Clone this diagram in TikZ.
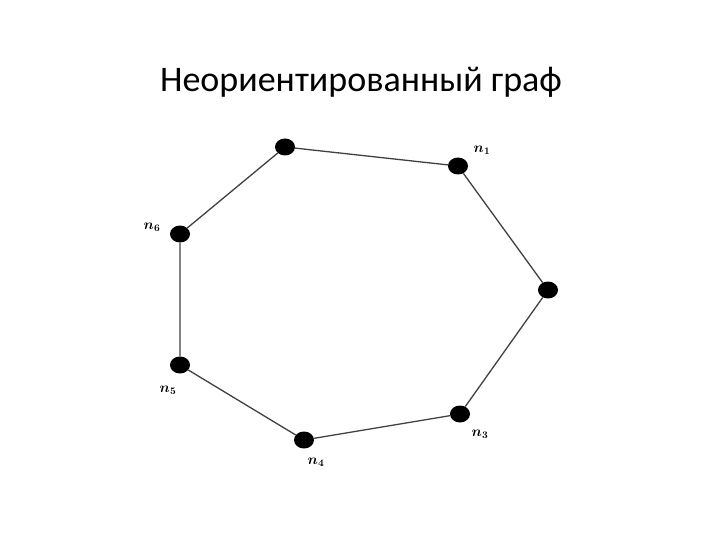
\documentclass[tikz,border=0pt]{standalone}
\usepackage{fontspec}
\setmainfont{Carlito}
\usetikzlibrary{shapes.geometric}
\begin{document}
\begin{tikzpicture}[x=1pt,y=-1pt,
  vtx/.style={ellipse,fill=black,minimum width=20pt,minimum height=17pt,inner sep=0pt},
  lbl/.style={font=\fontsize{14}{14}\selectfont\boldmath},
  edge/.style={line width=1.3pt,black!75}]
\useasboundingbox (0,0) rectangle (720,540);
\node[font=\fontsize{36}{36}\selectfont] (title) at (361,82) {Неориентированный граф};
\node[vtx] (a) at (285,147) {};
\node[vtx] (n1) at (458,166) {};
\node[vtx] (b) at (548,290) {};
\node[vtx] (n3) at (460,414) {};
\node[vtx] (n4) at (304,440) {};
\node[vtx] (n5) at (180,365) {};
\node[vtx] (n6) at (180,234) {};
\draw[edge] (a) -- (n1) -- (b) -- (n3) -- (n4) -- (n5) -- (n6) -- (a);
\node[lbl] (l1) at (482,150) {$n_1$};
\node[lbl] (l6) at (152,227) {$n_6$};
\node[lbl] (l5) at (168,390) {$n_5$};
\node[lbl] (l4) at (316,462) {$n_4$};
\node[lbl] (l3) at (480,434) {$n_3$};
\end{tikzpicture}
\end{document}
